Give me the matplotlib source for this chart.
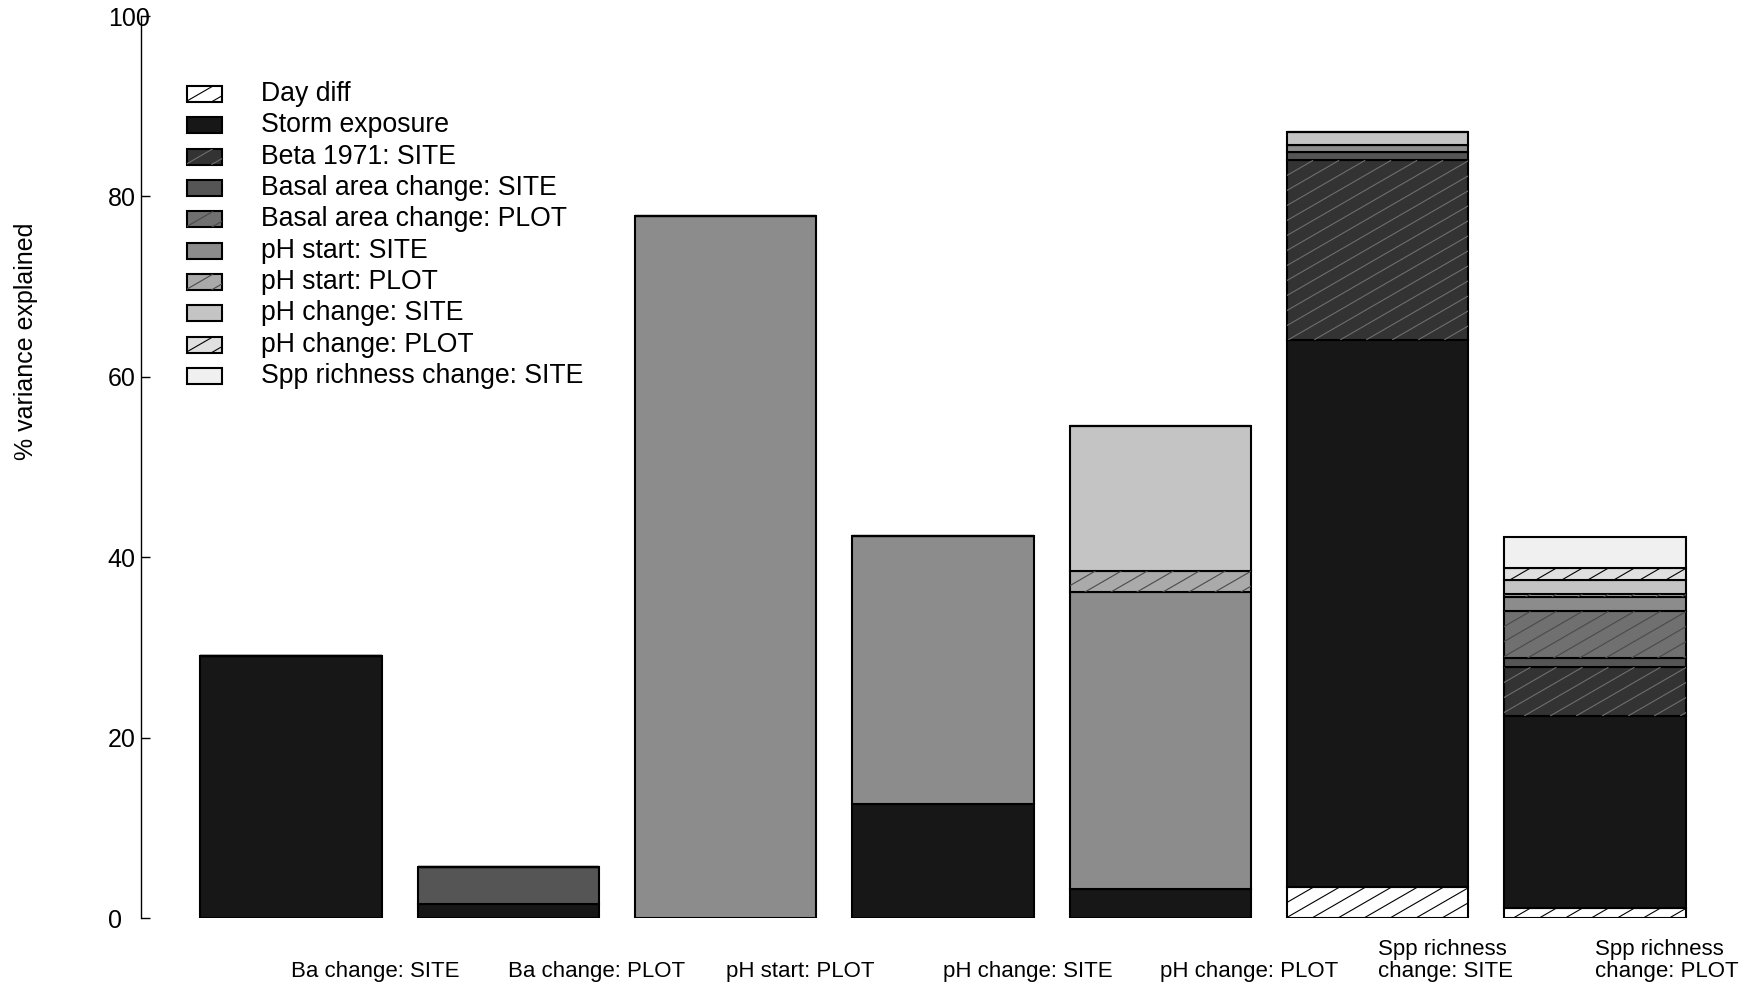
import matplotlib
matplotlib.use('Agg')
import matplotlib.pyplot as plt
import numpy as np
from matplotlib.patches import Rectangle
from matplotlib.collections import LineCollection
from matplotlib.transforms import IdentityTransform, blended_transform_factory

plt.rcParams['font.family'] = ['Liberation Sans', 'DejaVu Sans']

# bars (response variables) and their stacked components (% variance explained)
bar_labels = ['Ba change: SITE', 'Ba change: PLOT', 'pH start: PLOT', 'pH change: SITE',
              'pH change: PLOT', 'Spp richness\nchange: SITE', 'Spp richness\nchange: PLOT']

components = ['Day diff', 'Storm exposure', 'Beta 1971: SITE', 'Basal area change: SITE',
              'Basal area change: PLOT', 'pH start: SITE', 'pH start: PLOT',
              'pH change: SITE', 'pH change: PLOT', 'Spp richness change: SITE']

day_diff       = [0, 0, 0, 0, 0, 3.4, 1.1]
storm_exposure = [29.0, 1.6, 0, 12.6, 3.2, 60.7, 21.3]
beta_site      = [0, 0, 0, 0, 0, 19.9, 5.4]
basal_site     = [0, 4.0, 0, 0, 0, 0.9, 1.0]
basal_plot     = [0, 0, 0, 0, 0, 0, 5.2]
ph_start_site  = [0, 0, 77.8, 29.8, 32.9, 0.8, 1.6]
ph_start_plot  = [0, 0, 0, 0, 2.4, 0, 0.3]
ph_change_site = [0, 0, 0, 0, 16.0, 1.4, 1.6]
ph_change_plot = [0, 0, 0, 0, 0, 0, 1.3]
spp_site       = [0, 0, 0, 0, 0, 0, 3.4]

series = [day_diff, storm_exposure, beta_site, basal_site, basal_plot,
          ph_start_site, ph_start_plot, ph_change_site, ph_change_plot, spp_site]

# fill grey, hatch colour (None = no hatch)
fills = ['#ffffff', '#171717', '#333333', '#555555', '#707070',
         '#8c8c8c', '#aaaaaa', '#c4c4c4', '#e0e0e0', '#f0f0f0']
hatches = ['black', None, '#6e6e6e', None, '#4a4a4a',
           None, '#4a4a4a', None, 'black', None]

yticks = [0, 20, 40, 60, 80, 100]

W, H, DPI = 1752, 985, 100


def add_hatch(patch, color, container, spacing=26, angle=30):
	"""slanted hatch lines, clipped to the patch"""
	bb = patch.get_window_extent()
	x0, y0, x1, y1 = bb.x0, bb.y0, bb.x1, bb.y1
	h = y1 - y0
	if h <= 0:
		return
	run = h / np.tan(np.radians(angle))
	starts = np.arange(x0 - run - spacing, x1 + spacing, spacing)
	segs = [[(s, y0), (s + run, y1)] for s in starts]
	lc = LineCollection(segs, colors=color, linewidths=0.8, transform=IdentityTransform())
	container.add_artist(lc)
	# after add_artist, otherwise the axes clip box replaces it
	lc.set_clip_path(patch)


fig = plt.figure(figsize=(W / DPI, H / DPI), dpi=DPI)
ax = fig.add_axes([141 / W, 1 - 918 / H, (1745 - 141) / W, (918 - 16) / H])
ax.set_xlim(-0.128, 8.728)
ax.set_ylim(0, 100)
ax.set_autoscale_on(False)

x = 0.7 + 1.2 * np.arange(len(bar_labels))
bottom = np.zeros(len(bar_labels))
all_bars = []
for vals, fc, hc in zip(series, fills, hatches):
	bars = ax.bar(x, vals, width=1.0, bottom=bottom, color=fc,
	              edgecolor='black', linewidth=1.5)
	all_bars.append((bars, hc))
	bottom += np.array(vals)

for bars, hc in all_bars:
	if hc is not None:
		for b in bars:
			add_hatch(b, hc, ax)

ax.set_yticks(yticks)
ax.set_yticklabels([str(t) for t in yticks], ha='left')
ax.tick_params(axis='y', direction='in', length=6.5, width=1.0, labelsize=18, pad=24)
ax.tick_params(axis='x', bottom=False, labelbottom=False)
for s in ['top', 'right', 'bottom']:
	ax.spines[s].set_visible(False)
ax.spines['left'].set_linewidth(1.0)

# bar names, left-aligned at the bar centres
trans = blended_transform_factory(ax.transData, fig.transFigure)
for xi, lab in zip(x, bar_labels):
	ax.text(xi, 1 - 982 / H, lab, transform=trans, ha='left', va='bottom',
	        fontsize=16, linespacing=1.05, clip_on=False)

fig.text(26 / W, 1 - 341 / H, '% variance explained', rotation=90,
         ha='center', va='center', fontsize=18)

# legend
for k, (lab, fc, hc) in enumerate(zip(components, fills, hatches)):
	yc = 94 + 31.35 * k
	r = Rectangle((187, H - yc - 8), 35, 16, facecolor=fc, edgecolor='black',
	              linewidth=1.5, transform=IdentityTransform())
	fig.add_artist(r)
	if hc is not None:
		add_hatch(r, hc, fig)
	fig.text(261 / W, 1 - yc / H, lab, ha='left', va='center', fontsize=19.2)

fig.savefig('out.png', dpi=DPI)
